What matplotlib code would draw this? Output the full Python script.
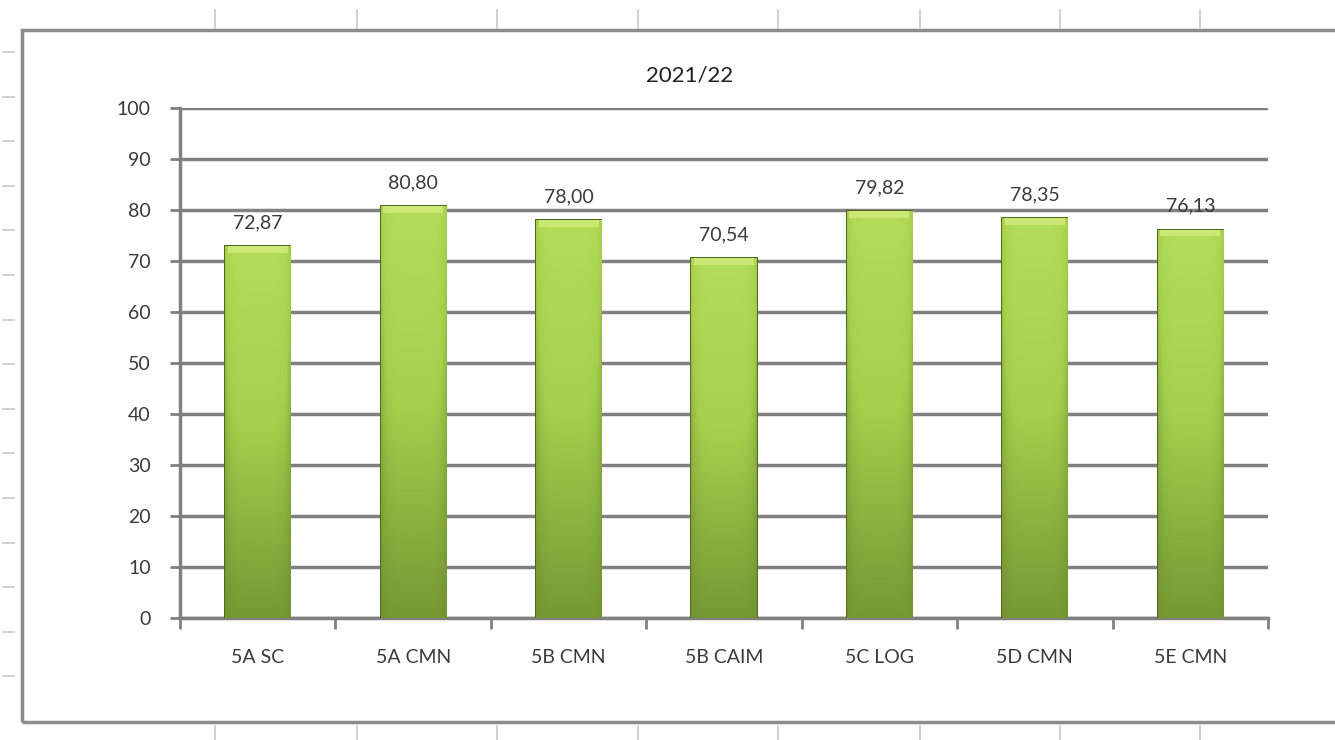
import numpy as np
import matplotlib.pyplot as plt
from matplotlib.colors import LinearSegmentedColormap
from matplotlib.lines import Line2D
from matplotlib.patches import Rectangle

# ----- data -----
classes = ['5A SC', '5A CMN', '5B CMN', '5B CAIM', '5C LOG', '5D CMN', '5E CMN']
scores = [72.87, 80.80, 78.00, 70.54, 79.82, 78.35, 76.13]
labels = ['72,87', '80,80', '78,00', '70,54', '79,82', '78,35', '76,13']
y_ticks = [0, 10, 20, 30, 40, 50, 60, 70, 80, 90, 100]

W, H = 1335, 740
fig = plt.figure(figsize=(W / 100, H / 100), dpi=100)
plt.rcParams['font.family'] = ['Lato', 'DejaVu Sans']

def fx(px): return px / W
def fy(py): return 1 - py / H

# spreadsheet remnants: chart border + cell ticks
fig.add_artist(Rectangle((fx(22), fy(722)), fx(1400) - fx(22), fy(30) - fy(722),
                         transform=fig.transFigure, fill=False, ec='#8c8c8c', lw=2.5))
for px in [215, 357, 497, 638, 778, 920, 1060, 1200]:
    fig.add_artist(Line2D([fx(px), fx(px)], [fy(10), fy(28)], color='#c8c8c8', lw=1.2))
    fig.add_artist(Line2D([fx(px), fx(px)], [fy(726), fy(740)], color='#c8c8c8', lw=1.2))
for py in np.arange(52, 720, 44.6):
    fig.add_artist(Line2D([fx(3), fx(14)], [fy(py), fy(py)], color='#c8c8c8', lw=1.2))

ax = fig.add_axes([fx(180), fy(618), fx(1268) - fx(180), fy(108) - fy(618)])
x = np.arange(len(classes))
bars = ax.bar(x, scores, width=0.42, color='#92bd42', edgecolor='#4a6618', lw=1.4, zorder=3)

# gradient fill for Excel-like bevel look
cmap = LinearSegmentedColormap.from_list('g', ['#56741f', '#7a9e36', '#a6d04c', '#b4dc58'])
grad_v = np.linspace(0, 1, 100).reshape(-1, 1)
grad_h = 1 - np.abs(np.linspace(-1, 1, 50)).reshape(1, -1) ** 6
img = 0.25 + grad_v * 0.7 * (0.6 + 0.4 * grad_h) + 0.05 * grad_h
for b in bars:
    x0, w, h = b.get_x(), b.get_width(), b.get_height()
    im = ax.imshow(img, cmap=cmap, extent=[x0, x0 + w, 0, h], origin='lower',
                   aspect='auto', zorder=3.5, vmin=0, vmax=1)
    im.set_clip_path(b)
    # light cap at the top
    ax.add_patch(Rectangle((x0 + w * 0.04, h - 1.3), w * 0.92, 1.3, color='#cbe874', zorder=4, lw=0))

for xi, v, lab in zip(x, scores, labels):
    ax.text(xi, v + 4.6, lab, ha='center', va='center', fontsize=14, color='#3a3a3a', zorder=5)

ax.set_xlim(-0.5, len(classes) - 0.5)
ax.set_ylim(0, 100)
ax.set_yticks(y_ticks)
ax.set_xticks(x)
ax.set_xticklabels(classes)
ax.set_xticks(np.arange(-0.5, len(classes)), minor=True)
ax.tick_params(axis='x', which='major', length=0, pad=22, labelsize=14, labelcolor='#3a3a3a')
ax.tick_params(axis='x', which='minor', length=8, width=2, color='#808080', direction='out')
ax.tick_params(axis='y', length=7, width=2, color='#808080', direction='out', pad=14,
               labelsize=14, labelcolor='#3a3a3a')
ax.yaxis.grid(True, color='#808080', lw=2.5, zorder=0)
ax.set_axisbelow(True)
for s in ['top', 'right']:
    ax.spines[s].set_visible(False)
for s in ['left', 'bottom']:
    ax.spines[s].set_color('#808080')
    ax.spines[s].set_linewidth(2.5)

fig.text(fx(690), fy(75), '2021/22', ha='center', va='center', fontsize=16, color='#202020')

fig.savefig('out.png', dpi=100)
